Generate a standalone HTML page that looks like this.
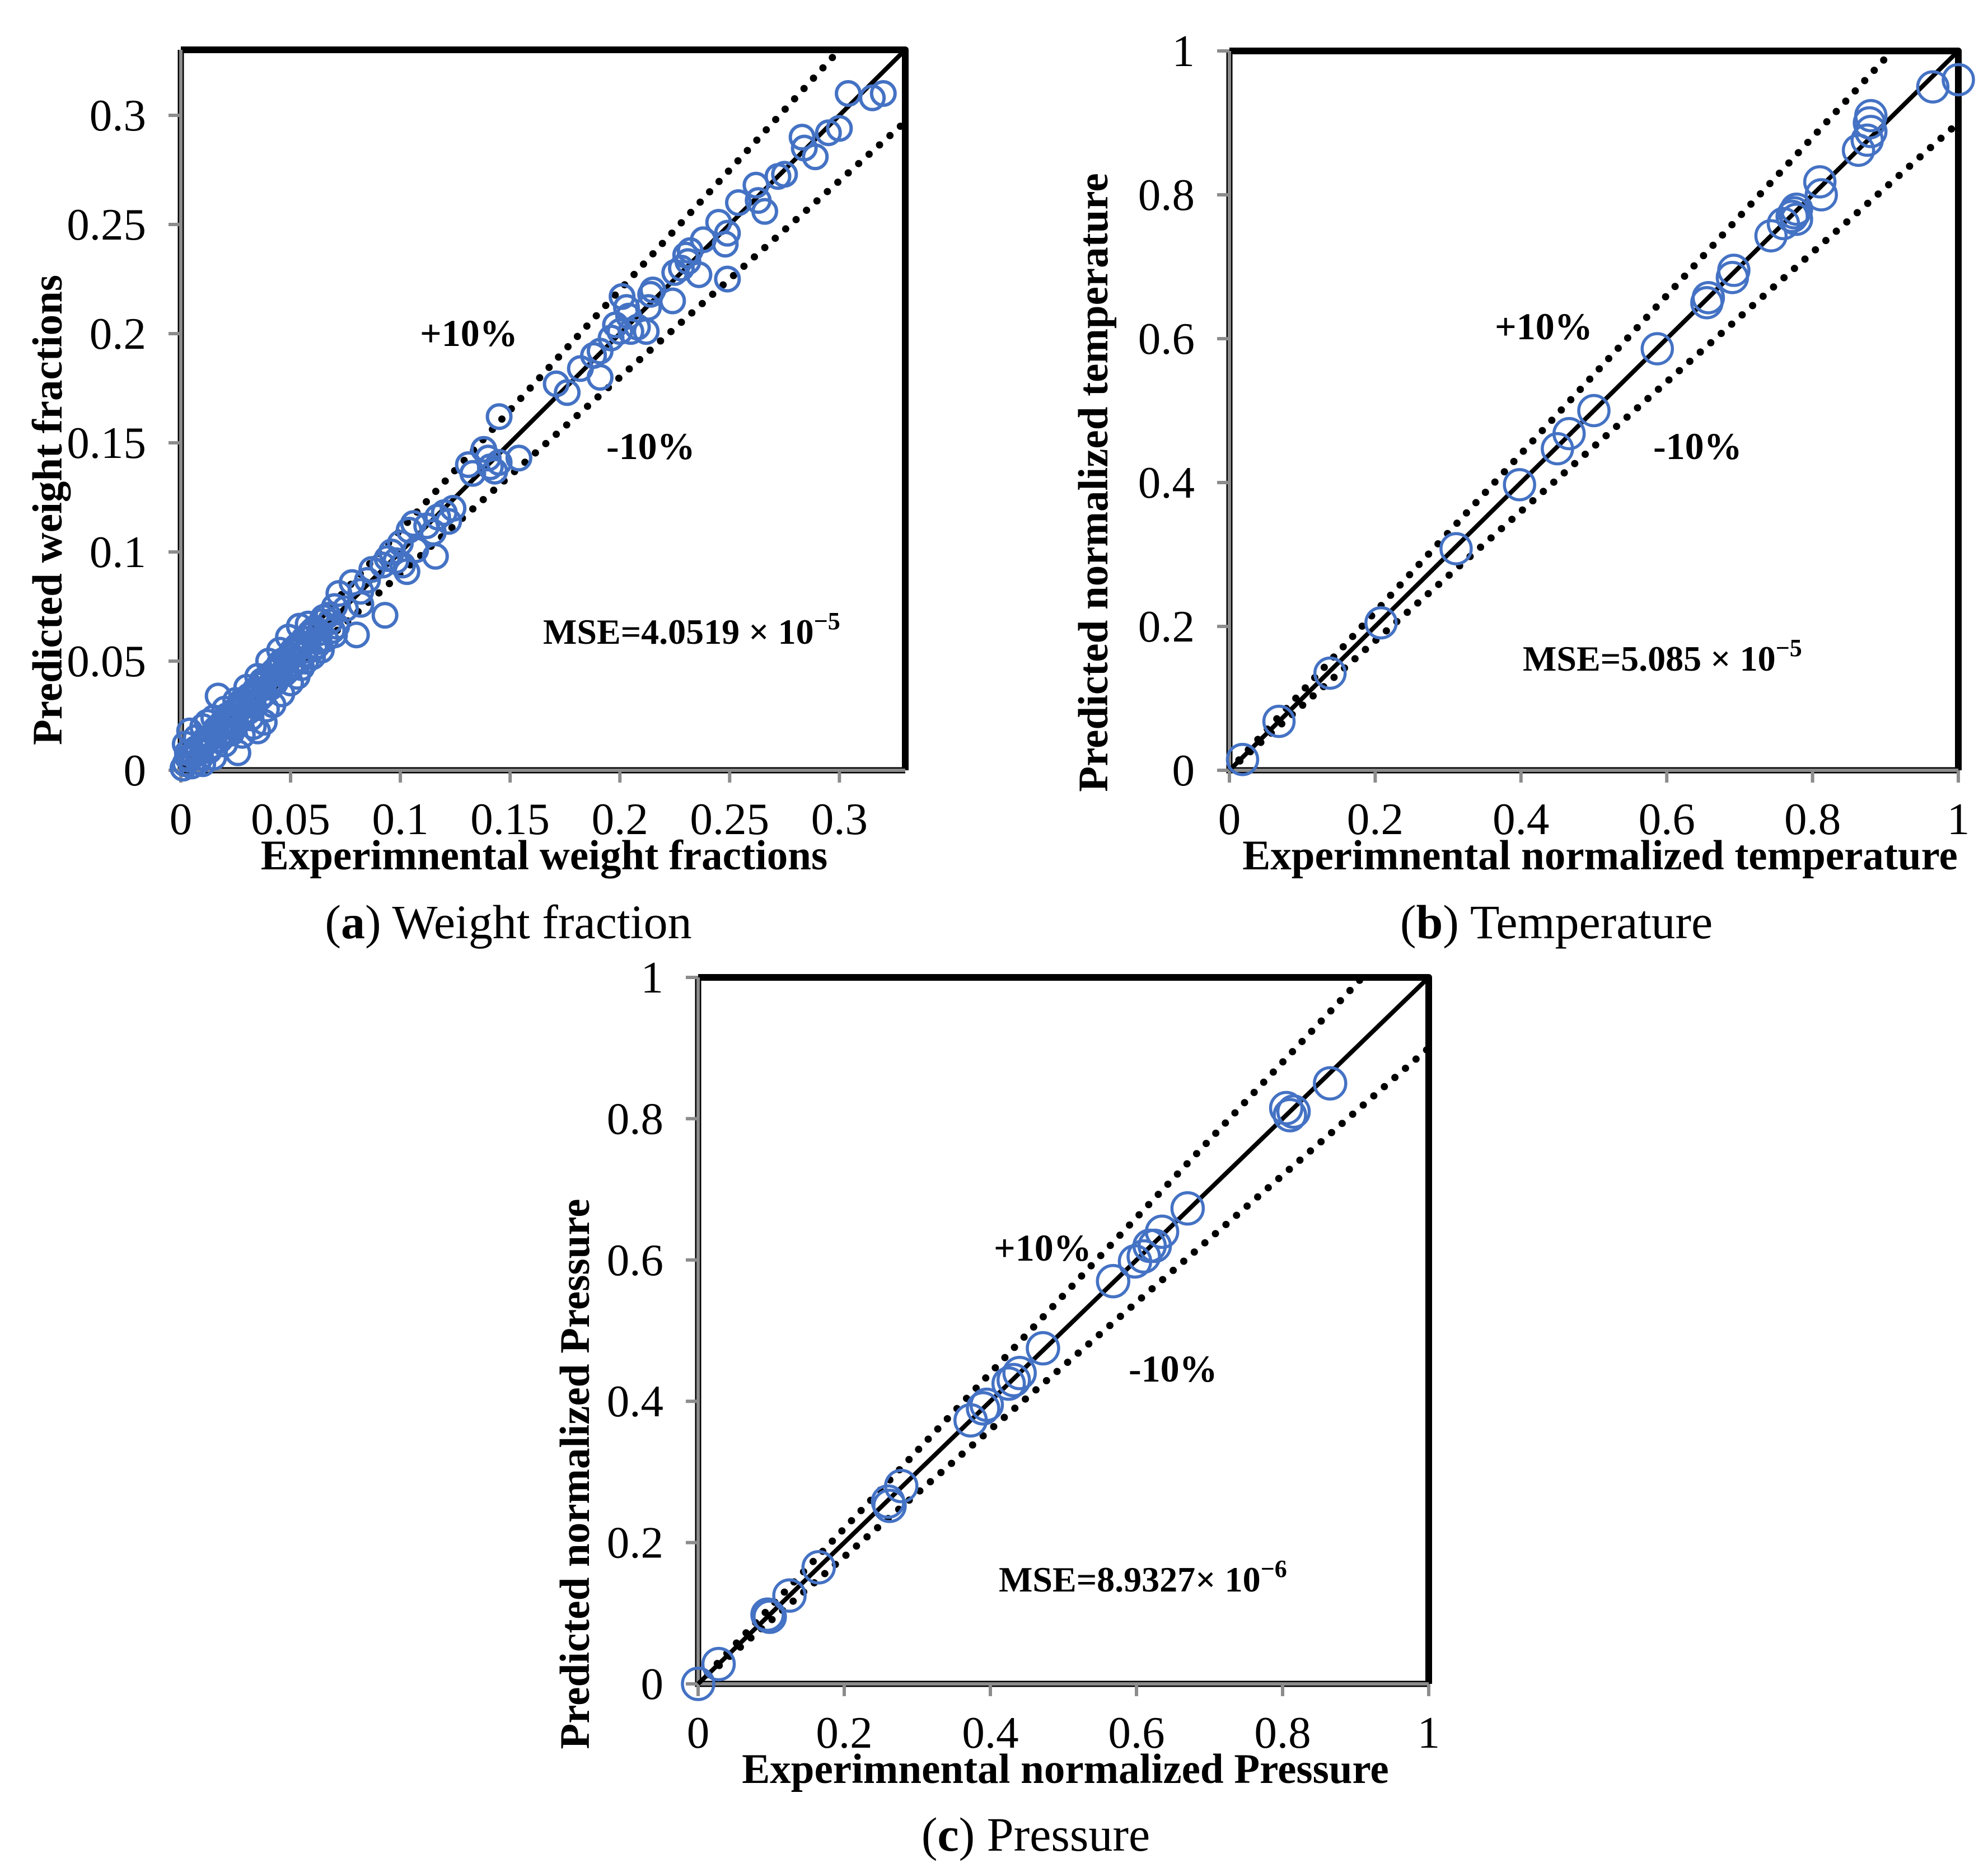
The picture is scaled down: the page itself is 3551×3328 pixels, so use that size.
<!DOCTYPE html>
<html><head><meta charset="utf-8">
<style>
html,body{margin:0;padding:0;background:#fff;}
svg{display:block;}
text{font-family:"Liberation Serif",serif;fill:#000;}
</style></head>
<body>
<svg id="fig" xmlns="http://www.w3.org/2000/svg" width="3551" height="3328" viewBox="0 0 3551 3328">
<rect width="3551" height="3328" fill="#fff"/>
</svg>
<script>
// ---------- Panel (a) data: weight fractions ----------
const aExp = [0.304,0.315,0.320,0.300,0.295,0.283,0.284,0.289,0.272,0.275,0.262,0.254,0.263,0.266,0.245,0.249,0.248,0.249,0.238,0.236,0.232,0.230,0.231,0.228,0.225,0.224,0.215,0.213,0.214,0.201,0.203,0.204,0.198,0.200,0.205,0.208,0.212,0.196,0.191,0.188,0.191,0.182,0.176,0.171,0.145,0.138,0.140,0.131,0.133,0.141,0.145,0.154,0.143,0.124,0.120,0.122,0.117,0.112,0.106,0.104,0.115,0.116,0.107,0.100,0.096,0.094,0.092,0.098,0.101,0.103,0.087,0.085,0.082,0.078,0.082,0.093,0.080,0.072,0.075,0.070,0.068,0.065,0.063,0.060,0.058,0.055,0.057,0.052,0.050,0.048,0.047,0.045,0.043,0.044,0.040,0.041,0.038,0.036,0.037,0.034,0.032,0.033,0.030,0.028,0.029,0.026,0.024,0.025,0.022,0.020,0.021,0.018,0.016,0.017,0.014,0.012,0.013,0.010,0.008,0.009,0.006,0.004,0.005,0.002,0.001,0.003,0.002,0.004,0.017,0.012,0.028,0.026,0.035,0.038,0.046,0.050,0.055,0.062,0.066,0.071,0.049,0.054,0.058,0.045,0.040,0.035,0.030,0.025,0.020,0.015,0.010,0.007,0.020,0.015,0.010,0.032,0.042,0.057,0.064,0.070,0.060,0.053,0.039,0.033,0.023,
0.067,0.064,0.061,0.059,0.056,0.053,0.051,0.049,0.046,0.044,0.042,0.039,0.036,0.034,0.031,0.027,0.024,0.019,0.016,0.011,0.007,0.003,0.069,0.062,0.056,0.051,0.047,0.043,0.038,0.033,0.029,0.024,0.019,0.014,0.009,0.005,0.066,0.061,0.054,0.048,0.041,0.036,0.031,0.027,0.022,0.018,0.013,0.008,0.045,0.052,0.059,0.037,0.028,0.021,0.063,0.050];
const aPred = [0.310,0.308,0.310,0.294,0.292,0.290,0.285,0.281,0.272,0.273,0.268,0.260,0.261,0.256,0.251,0.246,0.241,0.225,0.243,0.227,0.238,0.236,0.233,0.230,0.228,0.215,0.220,0.212,0.218,0.217,0.212,0.208,0.204,0.201,0.201,0.203,0.201,0.198,0.192,0.190,0.180,0.184,0.173,0.177,0.162,0.147,0.143,0.140,0.136,0.139,0.141,0.143,0.137,0.120,0.118,0.114,0.116,0.112,0.113,0.110,0.109,0.098,0.101,0.104,0.100,0.097,0.094,0.096,0.094,0.091,0.092,0.087,0.082,0.086,0.076,0.071,0.062,0.081,0.074,0.075,0.068,0.070,0.063,0.064,0.060,0.058,0.055,0.054,0.052,0.050,0.045,0.048,0.046,0.042,0.043,0.039,0.040,0.037,0.034,0.036,0.033,0.030,0.031,0.029,0.026,0.027,0.025,0.022,0.023,0.021,0.018,0.019,0.017,0.014,0.015,0.013,0.010,0.011,0.009,0.006,0.007,0.005,0.002,0.003,0.001,0.008,0.012,0.018,0.034,0.022,0.016,0.008,0.018,0.022,0.035,0.040,0.047,0.057,0.060,0.066,0.061,0.066,0.067,0.055,0.050,0.043,0.038,0.032,0.028,0.024,0.020,0.015,0.012,0.006,0.003,0.024,0.030,0.050,0.055,0.062,0.052,0.043,0.028,0.020,0.017,
0.071,0.068,0.065,0.062,0.060,0.057,0.055,0.052,0.050,0.047,0.045,0.042,0.039,0.037,0.034,0.030,0.027,0.022,0.019,0.014,0.010,0.006,0.064,0.059,0.053,0.048,0.044,0.040,0.035,0.030,0.026,0.021,0.016,0.011,0.006,0.002,0.060,0.056,0.050,0.045,0.038,0.033,0.027,0.023,0.018,0.014,0.009,0.004,0.049,0.056,0.063,0.041,0.032,0.025,0.059,0.047];
const aTicks = ["0","0.05","0.1","0.15","0.2","0.25","0.3"];
const aTickVals = [0,0.05,0.1,0.15,0.2,0.25,0.3];

// ---------- Panel (b) data: temperature ----------
const bExp = [0.018,0.068,0.138,0.208,0.311,0.398,0.450,0.466,0.500,0.587,0.655,0.657,0.690,0.692,0.743,0.760,0.772,0.775,0.778,0.778,0.812,0.810,0.863,0.875,0.880,0.878,0.880,0.965,1.000];
const bPred = [0.015,0.068,0.135,0.205,0.308,0.397,0.447,0.468,0.500,0.586,0.650,0.657,0.685,0.695,0.743,0.760,0.770,0.775,0.780,0.766,0.800,0.818,0.862,0.876,0.888,0.900,0.910,0.950,0.960];

// ---------- Panel (c) data: pressure ----------
const cExp = [0.000,0.028,0.095,0.098,0.125,0.165,0.260,0.262,0.278,0.373,0.390,0.395,0.425,0.432,0.440,0.472,0.568,0.598,0.610,0.618,0.625,0.635,0.670,0.805,0.810,0.815,0.865];
const cPred = [0.000,0.028,0.098,0.095,0.125,0.165,0.258,0.252,0.280,0.373,0.390,0.395,0.425,0.430,0.440,0.475,0.570,0.598,0.605,0.620,0.620,0.640,0.673,0.815,0.805,0.810,0.850];
const unitTicks = ["0","0.2","0.4","0.6","0.8","1"];
const unitTickVals = [0,0.2,0.4,0.6,0.8,1];

const NS = "http://www.w3.org/2000/svg";
const svg = document.getElementById('fig');
function mk(tag, attrs, parent){
  const e = document.createElementNS(NS, tag);
  for (const k in attrs) e.setAttribute(k, attrs[k]);
  (parent||svg).appendChild(e);
  return e;
}

function panel(cfg){
  const g = mk('g', {});
  
  
  const X = v => cfg.x0 + v / cfg.max * (cfg.x1 - cfg.x0);
  const Y = v => cfg.y0 - v / cfg.max * (cfg.y0 - cfg.y1);
  const fr = mk('path', {d:`M${cfg.x0} ${cfg.y1} L${cfg.x1} ${cfg.y1} L${cfg.x1} ${cfg.y0}`, fill:'none', stroke:'#000','stroke-width':12,'stroke-linejoin':'round'}, g);
  
  
  const ax = mk('path', {d:`M${cfg.x0} ${cfg.y1} L${cfg.x0} ${cfg.y0} L${cfg.x1} ${cfg.y0}`, fill:'none', stroke:'#000','stroke-width':11}, g);
  
  
  mk('path', {d:`M${cfg.x0} ${cfg.y1} L${cfg.x0} ${cfg.y0} L${cfg.x1} ${cfg.y0}`, fill:'none', stroke:'#8c8c8c','stroke-width':6}, g);
  cfg.tickVals.forEach((v,i)=>{
    const tx = mk('line', {x1:X(v), x2:X(v), y1:cfg.y0, y2:cfg.y0+22, stroke:'#8c8c8c','stroke-width':6}, g);
    
    
    const ty = mk('line', {x1:cfg.x0-22, x2:cfg.x0, y1:Y(v), y2:Y(v), stroke:'#8c8c8c','stroke-width':6}, g);
    
    
    const lx = mk('text', {x:X(v), y:cfg.y0+114, 'font-size':81, 'text-anchor':'middle'}, g);
    lx.textContent = cfg.ticks[i];
    
    
    const ly = mk('text', {x:cfg.x0-62, y:Y(v)+27, 'font-size':81, 'text-anchor':'end'}, g);
    ly.textContent = cfg.ticks[i];
    
    
  });
  const cid = cfg.name + '-clip';
  const cp = mk('clipPath', {id:cid}, g);
  mk('rect', {x:cfg.x0, y:cfg.y1, width:cfg.x1-cfg.x0, height:cfg.y0-cfg.y1}, cp);
  const pg = mk('g', {'clip-path':`url(#${cid})`}, g);
  const up = mk('line', {x1:X(0), y1:Y(0), x2:X(cfg.max), y2:Y(cfg.max*1.1), stroke:'#000','stroke-width':13,'stroke-linecap':'round','stroke-dasharray':'0 25'}, pg);
  
  
  const dn = mk('line', {x1:X(0), y1:Y(0), x2:X(cfg.max), y2:Y(cfg.max*0.9), stroke:'#000','stroke-width':13,'stroke-linecap':'round','stroke-dasharray':'0 25'}, pg);
  
  
  const dg = mk('line', {x1:X(0), y1:Y(0), x2:X(cfg.max), y2:Y(cfg.max), stroke:'#000','stroke-width':8}, g);
  
  
  cfg.xs.forEach((xv,i)=>{
    const c = mk('circle', {cx:X(xv), cy:Y(cfg.ys[i]), r:cfg.r, fill:'none', stroke:'#4472C4','stroke-width':cfg.sw}, g);
    
    
  });
  const t1 = mk('text', {x:cfg.plus[0], y:cfg.plus[1], 'font-size':68, 'font-weight':'bold'}, g);
  t1.textContent = '+10%';
  
  
  const t2 = mk('text', {x:cfg.minus[0], y:cfg.minus[1], 'font-size':68, 'font-weight':'bold'}, g);
  t2.textContent = '-10%';
  
  
  const t3 = mk('text', {x:cfg.mse[0], y:cfg.mse[1], 'font-size':64, 'font-weight':'bold'}, g);
  t3.innerHTML = cfg.mseText + '<tspan font-size="44" dy="-26">' + cfg.mseExp + '</tspan>';
  
  
  const xt = mk('text', {x:cfg.xTitle[0], y:cfg.y0+177, 'font-size':75, 'font-weight':'bold', 'text-anchor':'middle'}, g);
  xt.textContent = cfg.xLabel;
  
  
  const yt = mk('text', {x:0, y:0, 'font-size':75, 'font-weight':'bold', 'text-anchor':'middle', transform:`translate(${cfg.yTitle[0]},${cfg.yTitle[1]}) rotate(-90)`}, g);
  yt.textContent = cfg.yLabel;
  
  
  const cap = mk('text', {x:cfg.cap[0], y:cfg.cap[1], 'font-size':86, 'text-anchor':'middle'}, g);
  cap.innerHTML = '(<tspan font-weight="bold">' + cfg.capLetter + '</tspan>) ' + cfg.capText;
  
  
}

panel({name:'panel-a-weight-fraction', x0:323, x1:1617, y0:1376, y1:89, max:0.33, r:21, sw:6,
  xs:aExp, ys:aPred, ticks:aTicks, tickVals:aTickVals,
  plus:[750,618], minus:[1083,820], mse:[970,1150], mseText:'MSE=4.0519 × 10', mseExp:'−5',
  xTitle:[972], yTitle:[110,911], xLabel:'Experimnental weight fractions', yLabel:'Predicted weight fractions',
  cap:[908,1676], capLetter:'a', capText:'Weight fraction'});
panel({name:'panel-b-temperature', x0:2196, x1:3498, y0:1376, y1:91, max:1, r:27, sw:5.5,
  xs:bExp, ys:bPred, ticks:unitTicks, tickVals:unitTickVals,
  plus:[2670,606], minus:[2953,820], mse:[2720,1198], mseText:'MSE=5.085 × 10', mseExp:'−5',
  xTitle:[2858], yTitle:[1978,862], xLabel:'Experimnental normalized temperature', yLabel:'Predicted normalized temperature',
  cap:[2780,1676], capLetter:'b', capText:'Temperature'});
panel({name:'panel-c-pressure', x0:1247, x1:2552, y0:3008, y1:1746, max:1, r:28, sw:5.5,
  xs:cExp, ys:cPred, ticks:unitTicks, tickVals:unitTickVals,
  plus:[1775,2252], minus:[2016,2468], mse:[1784,2843], mseText:'MSE=8.9327× 10', mseExp:'−6',
  xTitle:[1903], yTitle:[1052,2633], xLabel:'Experimnental normalized Pressure', yLabel:'Predicted normalized Pressure',
  cap:[1850,3306], capLetter:'c', capText:'Pressure'});
</script>
</body></html>
